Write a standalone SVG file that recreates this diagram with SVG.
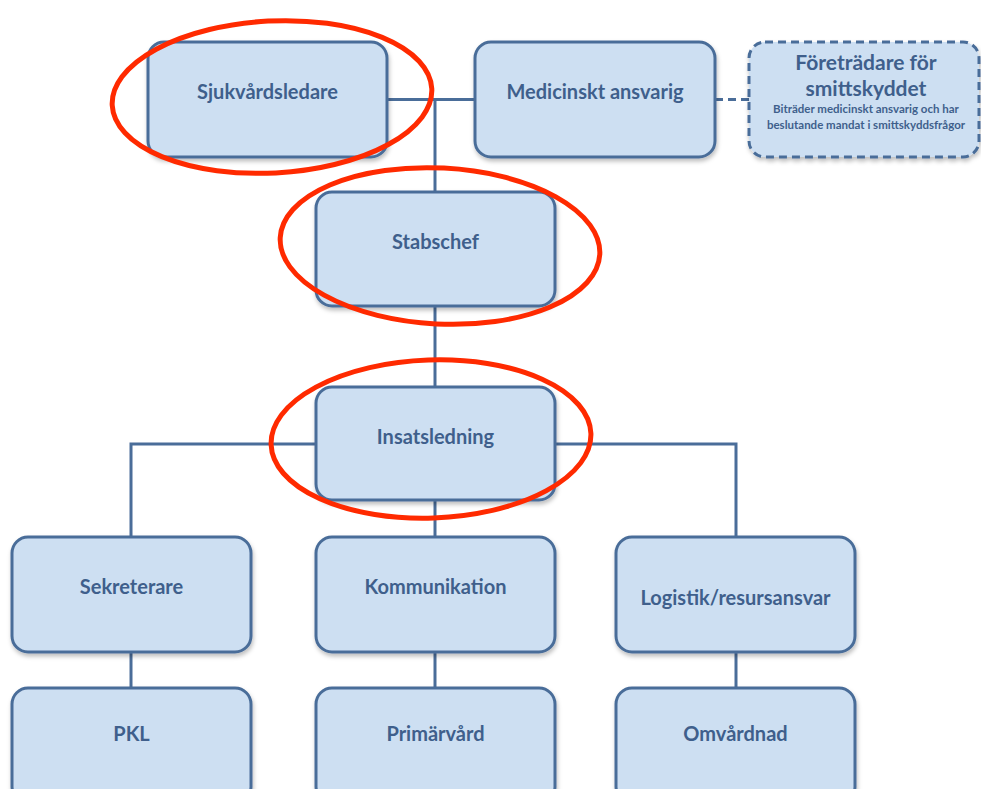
<svg xmlns="http://www.w3.org/2000/svg" width="981" height="789" viewBox="0 0 981 789">
  <defs>
    <filter id="shadow" x="-10%" y="-10%" width="125%" height="130%">
      <feDropShadow dx="1" dy="3" stdDeviation="2" flood-color="#000" flood-opacity="0.25"/>
    </filter>
    <style>
      .box { fill: #cddff2; stroke: #4a6d99; stroke-width: 3; filter: url(#shadow); }
      .dashed { stroke-dasharray: 8 5; }
      .link { fill: none; stroke: #4a6d99; stroke-width: 3; }
      .link.dash { stroke-dasharray: 8 5; }
      .label { font-family: "Lato", "Open Sans", "Liberation Sans", sans-serif; font-weight: bold; font-size: 20px; fill: #3f5f8c; text-anchor: middle; }
      .title { font-size: 21px; }
      .note { font-size: 11.5px; }
      .mark { fill: none; stroke: #ff2a00; stroke-width: 5; }
    </style>
  </defs>

  <rect width="981" height="789" fill="#ffffff"/>

  <!-- connectors -->
  <g id="connectors">
    <path class="link" d="M387 99.5 H475"/>
    <path class="link" d="M435 99.5 V192"/>
    <path class="link" d="M435 306 V387"/>
    <path class="link" d="M316 444 H131 V537"/>
    <path class="link" d="M556 444 H736 V537"/>
    <path class="link" d="M435 500 V537"/>
    <path class="link" d="M131 652 V688"/>
    <path class="link" d="M435 652 V688"/>
    <path class="link" d="M736 652 V688"/>
    <path class="link dash" d="M715 99.5 H749"/>
  </g>

  <!-- nodes -->
  <g id="sjukvardsledare">
    <rect class="box" x="148" y="42" width="239" height="115" rx="16"/>
    <text class="label" x="267.5" y="99">Sjukvårdsledare</text>
  </g>
  <g id="medicinskt-ansvarig">
    <rect class="box" x="475" y="42" width="240" height="115" rx="16"/>
    <text class="label" x="595" y="99">Medicinskt ansvarig</text>
  </g>
  <g id="smittskydd">
    <rect class="box dashed" x="749" y="42" width="230" height="115" rx="16"/>
    <text class="label title" x="866" y="70">Företrädare för</text>
    <text class="label title" x="866" y="96">smittskyddet</text>
    <text class="label note" x="866" y="113">Biträder medicinskt ansvarig och har</text>
    <text class="label note" x="866" y="129">beslutande mandat i smittskyddsfrågor</text>
  </g>
  <g id="stabschef">
    <rect class="box" x="316" y="192" width="239" height="114" rx="16"/>
    <text class="label" x="435.5" y="249">Stabschef</text>
  </g>
  <g id="insatsledning">
    <rect class="box" x="316" y="387" width="239" height="113" rx="16"/>
    <text class="label" x="435.5" y="444">Insatsledning</text>
  </g>
  <g id="sekreterare">
    <rect class="box" x="12" y="537" width="239" height="115" rx="16"/>
    <text class="label" x="131.5" y="594">Sekreterare</text>
  </g>
  <g id="kommunikation">
    <rect class="box" x="316" y="537" width="239" height="115" rx="16"/>
    <text class="label" x="435.5" y="594">Kommunikation</text>
  </g>
  <g id="logistik">
    <rect class="box" x="616" y="537" width="239" height="115" rx="16"/>
    <text class="label" x="735.5" y="605">Logistik/resursansvar</text>
  </g>
  <g id="pkl">
    <rect class="box" x="12" y="688" width="239" height="115" rx="16"/>
    <text class="label" x="131.5" y="741">PKL</text>
  </g>
  <g id="primarvard">
    <rect class="box" x="316" y="688" width="239" height="115" rx="16"/>
    <text class="label" x="435.5" y="741">Primärvård</text>
  </g>
  <g id="omvardnad">
    <rect class="box" x="616" y="688" width="239" height="115" rx="16"/>
    <text class="label" x="735.5" y="741">Omvårdnad</text>
  </g>

  <!-- highlight rings -->
  <g id="highlights">
    <ellipse class="mark" cx="272" cy="97" rx="160" ry="76" transform="rotate(-3 272 97)"/>
    <ellipse class="mark" cx="440" cy="246" rx="160" ry="78" transform="rotate(3 440 246)"/>
    <ellipse class="mark" cx="431" cy="439" rx="160" ry="79" transform="rotate(-2 431 439)"/>
  </g>
</svg>
